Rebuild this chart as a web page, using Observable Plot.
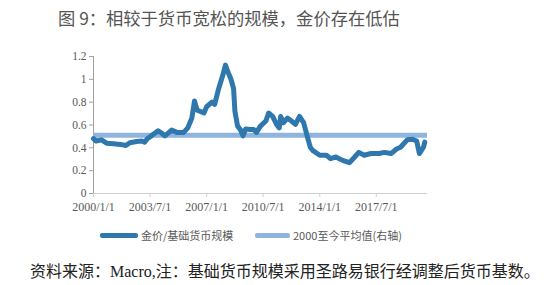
<!DOCTYPE html>
<html>
<head>
<meta charset="utf-8">
<script src="https://cdn.jsdelivr.net/npm/d3@7"></script>
<script src="https://cdn.jsdelivr.net/npm/@observablehq/plot@0.6"></script>
<style>
  html, body { margin: 0; padding: 0; background: #fff; width: 550px; height: 285px; overflow: hidden; }
  #title { height: 36px; line-height: 36px; padding-left: 58px; font-family: "Noto Sans CJK SC", sans-serif; font-size: 17.3px; color: #555; white-space: nowrap; }
  #chart svg { display: block; }
  #legend { position: relative; height: 34px; font-family: "Noto Sans CJK SC", sans-serif; font-size: 11px; color: #595959; }
  .item { position: absolute; top: 0; height: 34px; display: flex; align-items: center; white-space: nowrap; }
  .sw { display: inline-block; height: 5px; border-radius: 2px; margin-right: 3px; }
  #caption { height: 40px; line-height: 40px; padding-left: 30px; font-family: "Liberation Serif", "Noto Sans CJK SC", serif; font-size: 16px; color: #222; white-space: nowrap; }
</style>
</head>
<body>
<div id="title">图 9：相较于货币宽松的规模，金价存在低估</div>
<div id="chart"></div>
<div id="legend"></div>
<div id="caption">资料来源：Macro,注：基础货币规模采用圣路易银行经调整后货币基数。</div>
<script>
const dates = ["2000-01","2000-03","2000-07","2000-11","2001-04","2001-09","2002-01","2002-04","2002-09","2003-01","2003-03","2003-05","2003-08","2004-01","2004-04","2004-06","2004-11","2005-03","2005-08","2005-11","2006-02","2006-04","2006-06","2006-08","2006-11","2007-01","2007-05","2007-07","2007-10","2008-01","2008-03","2008-05","2008-07","2008-09","2008-10","2008-12","2009-02","2009-04","2009-06","2009-09","2009-12","2010-02","2010-05","2010-09","2010-11","2011-02","2011-05","2011-07","2011-08","2011-10","2012-01","2012-04","2012-07","2012-10","2013-01","2013-03","2013-04","2013-06","2013-08","2014-01","2014-06","2014-09","2015-01","2015-06","2015-11","2016-03","2016-06","2016-10","2017-03","2017-09","2018-01","2018-06","2018-10","2019-01","2019-06","2019-10","2020-01","2020-03","2020-06","2020-07"];
const ratio = [0.48,0.46,0.47,0.44,0.435,0.43,0.42,0.445,0.455,0.46,0.45,0.48,0.505,0.55,0.525,0.505,0.555,0.535,0.535,0.575,0.66,0.81,0.73,0.72,0.705,0.76,0.80,0.78,0.92,1.035,1.125,1.06,1.005,0.92,0.72,0.59,0.56,0.505,0.565,0.56,0.56,0.535,0.59,0.635,0.705,0.675,0.605,0.575,0.675,0.62,0.66,0.635,0.605,0.675,0.62,0.535,0.49,0.405,0.375,0.335,0.335,0.305,0.32,0.29,0.27,0.32,0.36,0.335,0.35,0.35,0.36,0.35,0.39,0.405,0.47,0.475,0.46,0.35,0.405,0.45];
const average = 0.51;
const xTickLabels = ["2000/1/1","2003/7/1","2007/1/1","2010/7/1","2014/1/1","2017/7/1"];
const yTicks = [0, 0.2, 0.4, 0.6, 0.8, 1, 1.2];
const xDomain = ["2000-01-01", "2020-09-01"];
const seriesNames = ["金价/基础货币规模", "2000至今平均值(右轴)"];
const colors = ["#2f78ae", "#8fb5df"];

const parseTick = s => { const [y, m, d] = s.split("/").map(Number); return new Date(Date.UTC(y, m - 1, d)); };
const data = dates.map((d, i) => ({date: new Date(d + "-01T00:00:00Z"), value: ratio[i]}));
const xd = xDomain.map(s => new Date(s + "T00:00:00Z"));
const fmt = d => `${d.getUTCFullYear()}/${d.getUTCMonth() + 1}/${d.getUTCDate()}`;

const chart = Plot.plot({
  width: 550,
  height: 182,
  marginLeft: 93,
  marginRight: 123,
  marginTop: 20,
  marginBottom: 25,
  style: {fontFamily: "'Liberation Serif', serif", fontSize: "12px", color: "#595959", background: "white"},
  x: {type: "utc", domain: xd},
  y: {domain: [0, 1.2]},
  marks: [
    Plot.ruleY([0], {stroke: "#d0d0d0", strokeWidth: 1}),
    Plot.ruleX([xd[0]], {y1: 0, y2: 1.2, stroke: "#a0a0a0", strokeWidth: 1}),
    Plot.axisY({ticks: yTicks, tickFormat: d => String(+d.toFixed(1)), tickSize: 4, tickPadding: 3, stroke: "#a0a0a0", fill: "#595959", label: null, fontSize: 11.5}),
    Plot.axisX({ticks: xTickLabels.map(parseTick), tickFormat: fmt, tickSize: 4, tickPadding: 5, stroke: "#d0d0d0", fill: "#595959", label: null, fontSize: 12}),
    Plot.ruleY([average], {stroke: colors[1], strokeWidth: 5}),
    Plot.line(data, {x: "date", y: "value", stroke: colors[0], strokeWidth: 5, strokeLinejoin: "round", strokeLinecap: "round"})
  ]
});
document.getElementById("chart").appendChild(chart);

const legend = document.getElementById("legend");
const legendPos = [[100, 38], [255, 35]];
seriesNames.forEach((name, i) => {
  const it = document.createElement("div");
  it.className = "item";
  it.style.left = legendPos[i][0] + "px";
  it.innerHTML = `<span class="sw" style="width:${legendPos[i][1]}px;background:${colors[i]}"></span><span>${name}</span>`;
  legend.appendChild(it);
});
</script>
</body>
</html>
